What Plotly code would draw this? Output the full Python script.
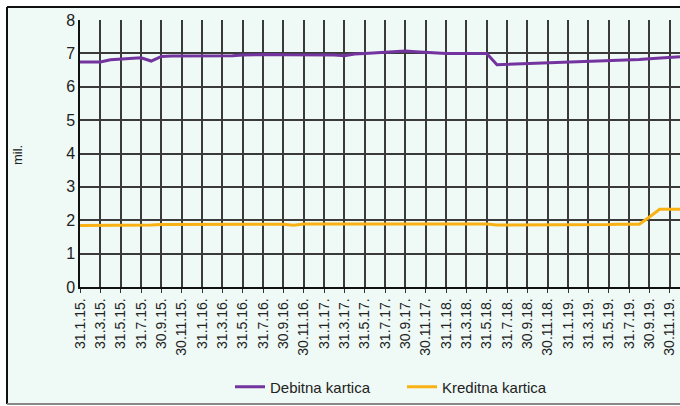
import plotly.graph_objects as go

# Month-end dates (categories), Jan 2015 - Dec 2019
months = [
    "31.1.15.", "28.2.15.", "31.3.15.", "30.4.15.", "31.5.15.", "30.6.15.",
    "31.7.15.", "31.8.15.", "30.9.15.", "31.10.15.", "30.11.15.", "31.12.15.",
    "31.1.16.", "29.2.16.", "31.3.16.", "30.4.16.", "31.5.16.", "30.6.16.",
    "31.7.16.", "31.8.16.", "30.9.16.", "31.10.16.", "30.11.16.", "31.12.16.",
    "31.1.17.", "28.2.17.", "31.3.17.", "30.4.17.", "31.5.17.", "30.6.17.",
    "31.7.17.", "31.8.17.", "30.9.17.", "31.10.17.", "30.11.17.", "31.12.17.",
    "31.1.18.", "28.2.18.", "31.3.18.", "30.4.18.", "31.5.18.", "30.6.18.",
    "31.7.18.", "31.8.18.", "30.9.18.", "31.10.18.", "30.11.18.", "31.12.18.",
    "31.1.19.", "28.2.19.", "31.3.19.", "30.4.19.", "31.5.19.", "30.6.19.",
    "31.7.19.", "31.8.19.", "30.9.19.", "31.10.19.", "30.11.19.", "31.12.19.",
]

# Tick labels shown (every second month)
tick_labels = [
    "31.1.15.", "31.3.15.", "31.5.15.", "31.7.15.", "30.9.15.", "30.11.15.",
    "31.1.16.", "31.3.16.", "31.5.16.", "31.7.16.", "30.9.16.", "30.11.16.",
    "31.1.17.", "31.3.17.", "31.5.17.", "31.7.17.", "30.9.17.", "30.11.17.",
    "31.1.18.", "31.3.18.", "31.5.18.", "31.7.18.", "30.9.18.", "30.11.18.",
    "31.1.19.", "31.3.19.", "31.5.19.", "31.7.19.", "30.9.19.", "30.11.19.",
]

# Debit cards (millions)
debitna = [
    6.74, 6.74, 6.74, 6.81, 6.83, 6.85, 6.87, 6.77, 6.91, 6.92, 6.92, 6.91,
    6.91, 6.91, 6.92, 6.93, 6.95, 6.96, 6.96, 6.97, 6.96, 6.96, 6.96, 6.96,
    6.96, 6.95, 6.93, 6.98, 7.00, 7.02, 7.03, 7.05, 7.07, 7.05, 7.03, 7.02,
    7.00, 7.00, 7.00, 7.00, 7.00, 6.66, 6.67, 6.68, 6.69, 6.70, 6.71, 6.72,
    6.73, 6.74, 6.75, 6.76, 6.78, 6.79, 6.81, 6.82, 6.84, 6.86, 6.88, 6.90,
]

# Credit cards (millions)
kreditna = [
    1.84, 1.84, 1.85, 1.85, 1.86, 1.86, 1.86, 1.86, 1.87, 1.87, 1.87, 1.87,
    1.87, 1.87, 1.88, 1.88, 1.88, 1.88, 1.88, 1.88, 1.88, 1.85, 1.89, 1.89,
    1.89, 1.89, 1.89, 1.89, 1.89, 1.89, 1.89, 1.89, 1.89, 1.89, 1.89, 1.89,
    1.89, 1.89, 1.89, 1.89, 1.89, 1.86, 1.86, 1.85, 1.85, 1.87, 1.87, 1.87,
    1.87, 1.87, 1.87, 1.87, 1.87, 1.88, 1.87, 1.88, 2.10, 2.33, 2.33, 2.33,
]

W, H = 680, 406
ML, MR, MT, MB = 80, 0, 20, 119
pw, ph = W - ML - MR, H - MT - MB


def px_x(x):
    return (x - ML) / pw


def px_y(y):
    return (H - MB - y) / ph


FONT = "Liberation Sans Narrow, Arial Narrow, Liberation Sans, Arial, sans-serif"

fig = go.Figure()
fig.add_trace(go.Scatter(x=months, y=debitna, mode="lines", name="Debitna kartica",
                         line=dict(color="#7434a0", width=3)))
fig.add_trace(go.Scatter(x=months, y=kreditna, mode="lines", name="Kreditna kartica",
                         line=dict(color="#f9b114", width=3)))

frame_line = dict(color="#111111", width=2)
fig.update_layout(
    width=W, height=H,
    margin=dict(l=ML, r=MR, t=MT, b=MB, pad=0, autoexpand=False),
    paper_bgcolor="white",
    plot_bgcolor="rgba(0,0,0,0)",
    font=dict(family=FONT, color="#222222"),
    showlegend=True,
    legend=dict(orientation="h", x=px_x(230), xanchor="left",
                y=px_y(387), yanchor="middle", font=dict(size=15, family=FONT),
                entrywidth=127, entrywidthmode="pixels",
                bgcolor="rgba(0,0,0,0)"),
    shapes=[
        dict(type="rect", xref="paper", yref="paper",
             x0=px_x(7), x1=px_x(700), y0=px_y(404), y1=px_y(7),
             line=dict(width=0), fillcolor="#eff9f5", layer="below"),
        dict(type="line", xref="paper", yref="paper",
             x0=px_x(7), x1=px_x(700), y0=px_y(7), y1=px_y(7),
             line=frame_line, layer="below"),
        dict(type="line", xref="paper", yref="paper",
             x0=px_x(7), x1=px_x(7), y0=px_y(404), y1=px_y(7),
             line=frame_line, layer="below"),
        dict(type="line", xref="paper", yref="paper",
             x0=px_x(7), x1=px_x(700), y0=px_y(404), y1=px_y(404),
             line=dict(color="#888888", width=2), layer="below"),
    ],
    annotations=[dict(text="mil.", xref="paper", yref="paper",
                      x=px_x(17), y=px_y(155), textangle=-90, showarrow=False,
                      font=dict(size=13, family=FONT), xanchor="center", yanchor="middle")],
)

fig.update_xaxes(
    type="category", categoryorder="array", categoryarray=months,
    range=[0, len(months) - 1], automargin=False,
    tickmode="array", tickvals=tick_labels, ticktext=tick_labels,
    tickangle=-90, tickfont=dict(size=14, family=FONT),
    showgrid=True, gridcolor="#3a3a3a", gridwidth=1.5,
    showline=True, linecolor="#111111", linewidth=1.5,
    ticks="outside", ticklen=4, tickcolor="#333333",
    zeroline=False,
)
fig.update_yaxes(
    range=[0, 8], dtick=1, tick0=0, automargin=False,
    tickfont=dict(size=16, family=FONT),
    showgrid=True, gridcolor="#3a3a3a", gridwidth=1.5,
    showline=True, linecolor="#111111", linewidth=1.5,
    zeroline=False, ticks="",
)

fig.write_html("out.html", config={"displayModeBar": False},
               post_script="document.body.style.margin='0';")
